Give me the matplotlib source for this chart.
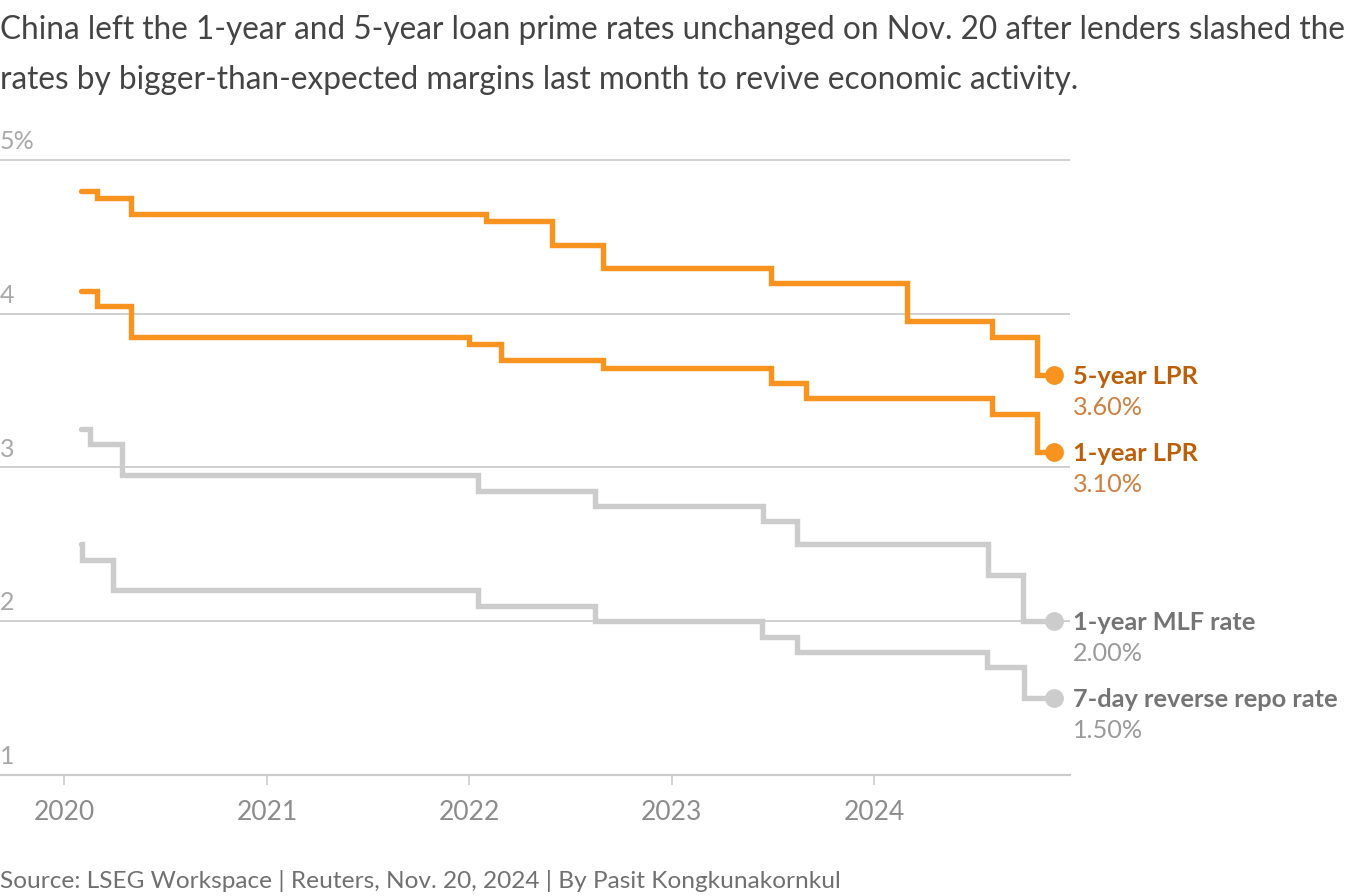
import matplotlib
matplotlib.use("Agg")
import matplotlib.pyplot as plt
import matplotlib.dates as mdates
import matplotlib.transforms as mtransforms
import pandas as pd

plt.rcParams['font.family'] = ['Lato', 'DejaVu Sans']

END_DATE = "2024-11-20"

lpr5_dates = ["2020-01-31", "2020-02-29", "2020-04-30", "2022-01-31", "2022-05-31",
              "2022-08-31", "2023-06-30", "2024-02-29", "2024-07-31", "2024-10-21"]
lpr5_vals = [4.80, 4.75, 4.65, 4.60, 4.45, 4.30, 4.20, 3.95, 3.85, 3.60]

lpr1_dates = ["2020-01-31", "2020-02-29", "2020-04-30", "2021-12-31", "2022-02-28",
              "2022-08-31", "2023-06-30", "2023-08-31", "2024-07-31", "2024-10-21"]
lpr1_vals = [4.15, 4.05, 3.85, 3.80, 3.70, 3.65, 3.55, 3.45, 3.35, 3.10]

mlf_dates = ["2020-01-31", "2020-02-17", "2020-04-15", "2022-01-17", "2022-08-15",
             "2023-06-15", "2023-08-15", "2024-07-25", "2024-09-25"]
mlf_vals = [3.25, 3.15, 2.95, 2.85, 2.75, 2.65, 2.50, 2.30, 2.00]

repo_dates = ["2020-01-31", "2020-02-03", "2020-03-30", "2022-01-17", "2022-08-15",
              "2023-06-13", "2023-08-15", "2024-07-22", "2024-09-27"]
repo_vals = [2.50, 2.40, 2.20, 2.10, 2.00, 1.90, 1.80, 1.70, 1.50]

series_names = ["5-year LPR", "1-year LPR", "1-year MLF rate", "7-day reverse repo rate"]
series_dates = [lpr5_dates, lpr1_dates, mlf_dates, repo_dates]
series_vals = [lpr5_vals, lpr1_vals, mlf_vals, repo_vals]

y_ticks = [1, 2, 3, 4, 5]
y_tick_labels = ["1", "2", "3", "4", "5%"]
x_years = [2020, 2021, 2022, 2023, 2024]

title_lines = ["China left the 1-year and 5-year loan prime rates unchanged on Nov. 20 after lenders slashed the",
               "rates by bigger-than-expected margins last month to revive economic activity."]
source_text = "Source: LSEG Workspace | Reuters, Nov. 20, 2024 | By Pasit Kongkunakornkul"

ORANGE = "#F7931E"
ORANGE_BOLD = "#BD5E08"
ORANGE_VAL = "#D07F3E"
GRAY = "#CCCCCC"
GRAY_BOLD = "#747474"
GRAY_VAL = "#9A9A9A"
line_colors = [ORANGE, ORANGE, GRAY, GRAY]
bold_colors = [ORANGE_BOLD, ORANGE_BOLD, GRAY_BOLD, GRAY_BOLD]
val_colors = [ORANGE_VAL, ORANGE_VAL, GRAY_VAL, GRAY_VAL]

W, H = 1351, 896
fig = plt.figure(figsize=(W / 100, H / 100), dpi=100)
ax_left_px, ax_right_px, ax_top_px, ax_bot_px = 0, 1070, 150, 775
ax = fig.add_axes([ax_left_px / W, 1 - ax_bot_px / H,
                   (ax_right_px - ax_left_px) / W, (ax_bot_px - ax_top_px) / H])

# x scale: 2020 tick at px 64, 2024 tick at px 874
t2020 = mdates.date2num(pd.Timestamp("2020-01-01"))
t2024 = mdates.date2num(pd.Timestamp("2024-01-01"))
px_per_day = (874 - 64) / (t2024 - t2020)
ax.set_xlim(t2020 - 64 / px_per_day, t2020 + (1070 - 64) / px_per_day)
ax.set_ylim(1, 5 + 10 / ((775 - 160) / 4))

for sp in ["top", "right", "left"]:
    ax.spines[sp].set_visible(False)
ax.spines["bottom"].set_color(GRAY)
ax.spines["bottom"].set_linewidth(1.6)
ax.spines["bottom"].set_zorder(1)

for yv in y_ticks[1:]:
    ax.axhline(yv, color=GRAY, lw=1.3, zorder=1)

ax.set_yticks([])
ax.set_xticks([mdates.date2num(pd.Timestamp(f"{y}-01-01")) for y in x_years])
ax.set_xticklabels([str(y) for y in x_years])
ax.tick_params(axis="x", length=7, width=1.2, color=GRAY, labelsize=19,
               labelcolor="#8C8C8C", pad=11)

trans = mtransforms.blended_transform_factory(ax.transAxes, ax.transData)
for yv, lab in zip(y_ticks, y_tick_labels):
    ax.text(0.0, yv + 0.045, lab, transform=trans, ha="left", va="bottom",
            fontsize=18, color="#A8A8A8", clip_on=False)

end_num = mdates.date2num(pd.Timestamp(END_DATE))
for name, ds, vs, lc, bc, vc in zip(series_names, series_dates, series_vals,
                                    line_colors, bold_colors, val_colors):
    xs = [mdates.date2num(pd.Timestamp(d)) for d in ds] + [end_num]
    ys = list(vs) + [vs[-1]]
    ax.step(xs, ys, where="post", color=lc, lw=3.9, zorder=3,
            solid_joinstyle="miter", solid_capstyle="round", clip_on=False)
    ax.plot([end_num], [vs[-1]], "o", color=lc, ms=12.5, zorder=4, clip_on=False)
    ax.annotate(name, (end_num, vs[-1]), xytext=(19, -1), textcoords="offset pixels",
                ha="left", va="center", fontsize=18.3, fontweight="bold", color=bc,
                annotation_clip=False)
    ax.annotate(f"{vs[-1]:.2f}%", (end_num, vs[-1]), xytext=(19, -32),
                textcoords="offset pixels", ha="left", va="center", fontsize=18.2,
                color=vc, annotation_clip=False)

fig.text(0.0, 1 - 30 / H, title_lines[0], ha="left", va="center", fontsize=22.7, color="#444444")
fig.text(0.0, 1 - 80 / H, title_lines[1], ha="left", va="center", fontsize=22.7, color="#444444")
fig.text(0.0, 1 - 881 / H, source_text, ha="left", va="center", fontsize=17.6, color="#707070")

fig.savefig("out.png", dpi=100)
